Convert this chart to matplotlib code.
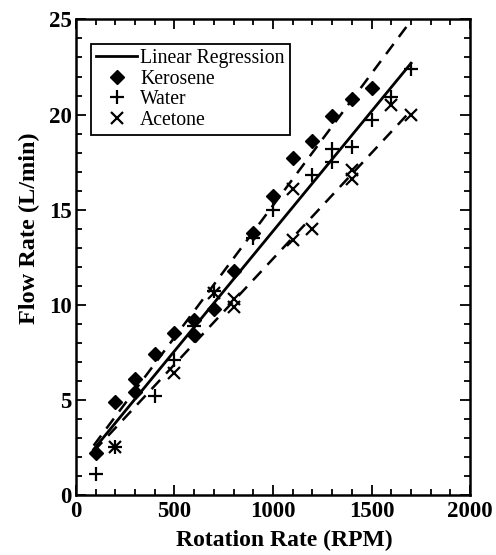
import matplotlib
matplotlib.use("Agg")
import matplotlib.pyplot as plt
from matplotlib.ticker import MultipleLocator

# datos (RPM, L/min)
kero_x = [100, 200, 300, 300, 400, 500, 600, 600, 700, 800, 900, 1000, 1100, 1200, 1300, 1400, 1500]
kero_y = [2.2, 4.9, 5.4, 6.1, 7.4, 8.5, 9.2, 8.4, 9.8, 11.8, 13.8, 15.7, 17.7, 18.6, 19.9, 20.8, 21.4]

water_x = [100, 200, 400, 500, 600, 700, 900, 1000, 1200, 1300, 1300, 1400, 1500, 1600, 1700]
water_y = [1.1, 2.5, 5.2, 7.1, 8.9, 10.7, 13.5, 15.0, 16.8, 17.5, 18.2, 18.3, 19.7, 20.9, 22.4]

acet_x = [200, 500, 700, 800, 800, 1100, 1100, 1200, 1400, 1400, 1600, 1700]
acet_y = [2.5, 6.4, 10.6, 10.3, 9.9, 13.4, 16.1, 14.0, 16.6, 17.1, 20.5, 20.0]

# regresion y limites (extremos)
reg_x = [90, 1700]
reg_y = [2.4, 22.7]
upper_x = [90, 1690]
upper_y = [2.6, 24.8]
lower_x = [90, 1690]
lower_y = [2.3, 20.1]

plt.rcParams["font.family"] = ["Liberation Serif", "DejaVu Serif"]

fig = plt.figure(figsize=(4.96, 5.55), dpi=100)
ax = fig.add_axes([0.153, 0.108, 0.795, 0.857])

ax.plot(reg_x, reg_y, "-", color="black", lw=2.0, label="Linear Regression")
ax.plot(upper_x, upper_y, color="black", lw=1.8, dashes=(5, 3.5))
ax.plot(lower_x, lower_y, color="black", lw=1.8, dashes=(5, 3.5))

ax.plot(kero_x, kero_y, "D", color="black", ms=7, ls="none", label="Kerosene")
ax.plot(water_x, water_y, "+", color="black", ms=10, mew=1.6, ls="none", label="Water")
ax.plot(acet_x, acet_y, "x", color="black", ms=8, mew=1.6, ls="none", label="Acetone")

ax.set_xlim(0, 2000)
ax.set_ylim(0, 25)
ax.xaxis.set_major_locator(MultipleLocator(500))
ax.xaxis.set_minor_locator(MultipleLocator(100))
ax.yaxis.set_major_locator(MultipleLocator(5))
ax.yaxis.set_minor_locator(MultipleLocator(1))
ax.tick_params(which="both", direction="in", top=True, right=True, width=1.3)
ax.tick_params(which="major", length=7, labelsize=16.5)
ax.tick_params(axis="x", which="major", pad=4)
ax.tick_params(axis="y", which="major", pad=3)
ax.tick_params(which="minor", length=4)
for lbl in ax.get_xticklabels() + ax.get_yticklabels():
    lbl.set_fontweight("bold")
for s in ax.spines.values():
    s.set_linewidth(1.8)

ax.set_xlabel("Rotation Rate (RPM)", fontsize=17, fontweight="bold")
ax.set_ylabel("Flow Rate (L/min)", fontsize=17.5, fontweight="bold")
ax.xaxis.set_label_coords(0.529, -0.095)
ax.yaxis.set_label_coords(-0.118, 0.562)
ax.xaxis.label.set_va("center")
ax.yaxis.label.set_va("center")

leg = ax.legend(loc="upper left", bbox_to_anchor=(0.038, 0.948), fontsize=14.2,
                frameon=True, fancybox=False, edgecolor="black", framealpha=1,
                handlelength=2.1, handletextpad=0.15, borderpad=0.25,
                labelspacing=0.08, borderaxespad=0)
leg.get_frame().set_linewidth(1.3)

fig.savefig("out.png", dpi=100)
